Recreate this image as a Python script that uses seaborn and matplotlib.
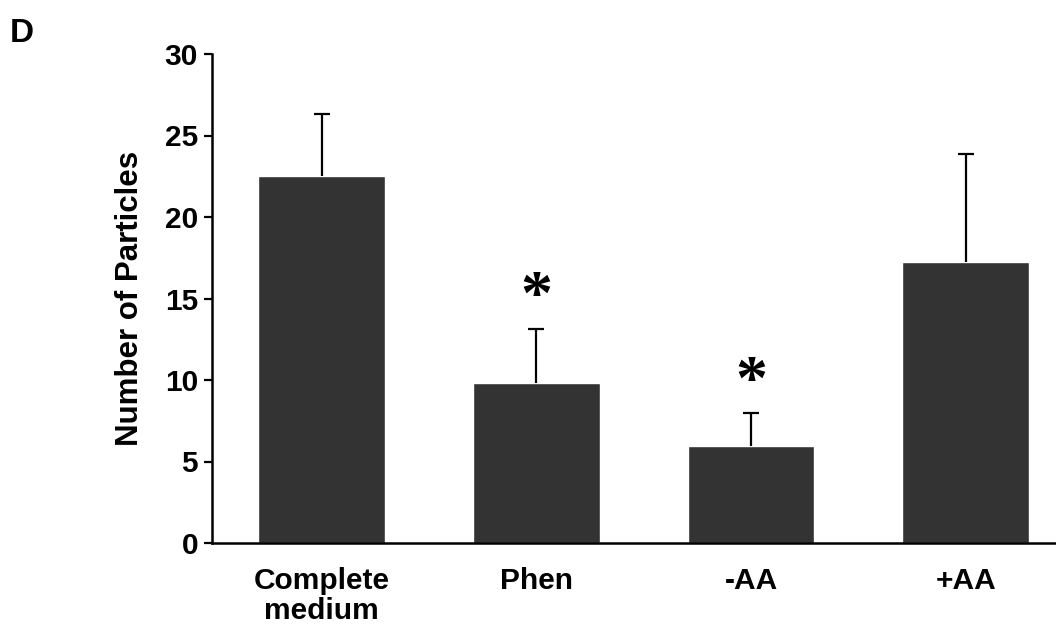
import numpy as np
import pandas as pd
import seaborn as sns
import matplotlib.pyplot as plt

# values
groups = ["Complete\nmedium", "Phen", "-AA", "+AA"]
means = [22.5, 9.8, 5.95, 17.25]
sems = [3.8, 3.35, 2.0, 6.6]
significant = [False, True, True, False]
star_y = [0, 15.0, 9.75, 0]

sns.set_theme(style="ticks")
plt.rcParams['font.family'] = ['Liberation Sans', 'DejaVu Sans']
plt.rcParams['font.weight'] = 'bold'
plt.rcParams['text.color'] = 'black'
plt.rcParams['axes.labelcolor'] = 'black'
plt.rcParams['xtick.color'] = 'black'
plt.rcParams['ytick.color'] = 'black'

df = pd.DataFrame({"group": groups, "particles": means})

fig = plt.figure(figsize=(10.56, 6.25), dpi=100)
ax = fig.add_axes([212/1056, 1 - 543/625, 1 - 212/1056, (543 - 54)/625])

sns.barplot(data=df, x="group", y="particles", color="#333333", saturation=1,
            width=0.59, errorbar=None, ax=ax, zorder=2)

x = np.arange(len(groups))
eb = ax.errorbar(x, means, yerr=[np.zeros(len(means)), sems], fmt='none',
                 ecolor='black', elinewidth=1.6, capsize=5.8, capthick=1.6, zorder=3)
# only the upper cap is visible
eb[1][0].set_visible(False)

for i, sig in enumerate(significant):
    if sig:
        ax.text(i, star_y[i], "*", ha='center', va='center', fontsize=46,
                family='Liberation Serif', fontweight='bold', color='black')

ax.set_ylim(0, 30)
ax.set_xlim(-0.51, 3.42)
ax.set_yticks([0, 5, 10, 15, 20, 25, 30])
ax.set_xlabel("")
ax.set_ylabel("Number of Particles", fontsize=22.5, fontweight='bold', labelpad=14)
ax.tick_params(axis='y', labelsize=21.5, length=6, width=1.6, pad=4)
ax.tick_params(axis='x', labelsize=21.5, length=0, pad=17)
for lab in ax.get_xticklabels() + ax.get_yticklabels():
    lab.set_fontweight('bold')
for lab in ax.get_xticklabels():
    lab.set_linespacing(1.12)
for s in ['top', 'right']:
    ax.spines[s].set_visible(False)
for s in ['left', 'bottom']:
    ax.spines[s].set_linewidth(1.8)
    ax.spines[s].set_color('black')

fig.text(10/1056, 1 - 42/625, "D", fontsize=24, fontweight='bold')

fig.savefig("out.png", dpi=100)
